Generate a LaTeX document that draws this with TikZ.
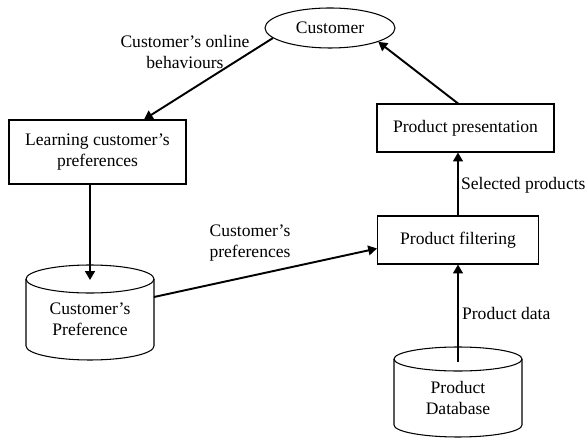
\documentclass[tikz,border=0pt]{standalone}
\usepackage{fontspec}
\setmainfont{Liberation Serif}
\usetikzlibrary{shapes.geometric,arrows.meta,calc}

% drum outline round a node: #1 node, #2 radius of the end ellipse
\newcommand{\drum}[2]{%
  \draw[line width=0.6pt] (#1.north) ellipse [x radius=64, y radius=#2];
  \draw[line width=0.6pt] (#1.north west) -- ($(#1.south west)+(0,-#2)$)
    arc [start angle=180, end angle=0, x radius=64, y radius=#2] -- (#1.north east);
}

\begin{document}
\begin{tikzpicture}[x=0.02cm, y=-0.02cm,
  box/.style={draw, line width=0.6pt, align=center, inner sep=2pt},
  store/.style={align=center, inner sep=0pt, outer sep=0pt, minimum width=2.56cm},
  flow/.style={line width=1.1pt, -{Triangle[length=5pt,width=5.5pt]}},
  lbl/.style={align=center, inner sep=1pt}]

\useasboundingbox (0,0) rectangle (585,438);

\node[draw, line width=0.6pt, ellipse, minimum width=2.6cm, minimum height=0.8cm, inner sep=0pt] (cust) at (330,28) {Customer};

\node[box, minimum width=3.54cm, minimum height=1.28cm] (learn) at (97.5,152) {Learning customer's\\preferences};
\node[box, minimum width=3.54cm, minimum height=0.96cm] (present) at (465.5,128) {Product presentation};
\node[box, minimum width=3.22cm, minimum height=0.96cm] (filter) at (458,240) {Product filtering};

\node[store, minimum height=1.62cm] (pref) at (90,319.5) {Customer's\\Preference};
\drum{pref}{14}
\node[store, minimum height=1.56cm] (db) at (458,398) {Product\\Database};
\drum{db}{12}

\draw[flow] (cust.190) -- (learn.35);
\draw[flow] (learn.south -| pref.north) -- ($(pref.north)+(0,1)$);
\draw[flow] ($(pref.north east)+(0,18)$) -- (filter.186);
\draw[flow] ($(db.north)+(0,3)$) -- (db.north |- filter.south);
\draw[flow] (filter.north) -- (filter.north |- present.south);
\draw[flow] (present.107) -- (cust.-16);

\node[lbl] (behav) at (185,52) {Customer's online\\behaviours};
\node[lbl] (preflbl) at (250,243) {Customer's\\preferences};
\node[lbl, anchor=west] (sel) at (459,185) {Selected products};
\node[lbl, anchor=west] (data) at (460,313) {Product data};

\end{tikzpicture}
\end{document}
